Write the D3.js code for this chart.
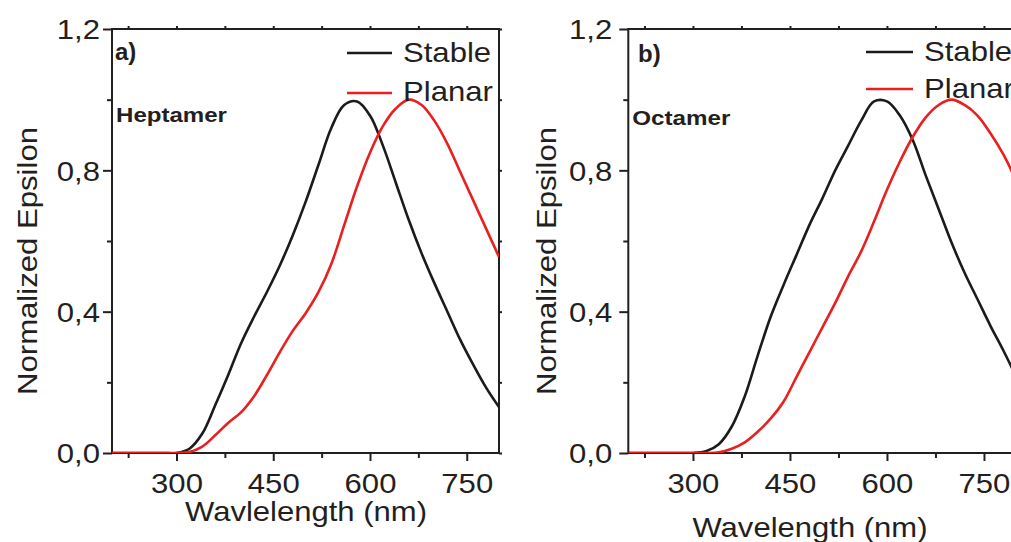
<!DOCTYPE html>
<html>
<head>
<meta charset="utf-8">
<script src="https://cdn.jsdelivr.net/npm/d3@7"></script>
<style>
  body { margin: 0; background: #fff; }
  svg { display: block; }
  text { font-family: "Liberation Sans", Arial, Helvetica, sans-serif; fill: #231f20; }
</style>
</head>
<body>
<svg id="chart" width="1011" height="542"></svg>
<script>
// Wavelength grid (nm)
const wavelengths = [200,220,240,260,280,300,320,340,360,380,400,420,440,460,480,500,
                     520,540,560,580,600,620,640,660,680,700,720,740,760,780,800];

// Normalized epsilon, heptamer
const heptamerStable = [0,0,0,0,0,0,0.012,0.055,0.135,0.22,0.31,0.385,0.455,0.53,0.615,0.71,
                        0.815,0.92,0.985,0.995,0.955,0.87,0.765,0.66,0.565,0.48,0.4,0.32,0.25,0.185,0.13];
const heptamerPlanar = [0,0,0,0,0,0,0.003,0.018,0.05,0.085,0.115,0.16,0.22,0.285,0.345,0.395,
                        0.455,0.535,0.645,0.755,0.85,0.925,0.975,1.0,0.985,0.94,0.875,0.795,0.715,0.635,0.555];

// Normalized epsilon, octamer
const octamerStable = [0,0,0,0,0,0,0.005,0.025,0.075,0.16,0.275,0.385,0.475,0.56,0.645,0.72,
                       0.8,0.87,0.94,0.995,0.995,0.955,0.885,0.785,0.69,0.595,0.51,0.435,0.36,0.29,0.215];
const octamerPlanar = [0,0,0,0,0,0,0,0.002,0.012,0.03,0.06,0.097,0.145,0.215,0.285,0.355,
                       0.425,0.5,0.57,0.655,0.745,0.825,0.895,0.95,0.985,1.0,0.985,0.955,0.905,0.845,0.77];

const seriesNames = ["Stable", "Planar"];
const seriesColors = ["#1c1a1a", "#e8201f"];

const xMajor = [300, 450, 600, 750];
const xMinor = [225, 375, 525, 675];
const yMajor = [0, 0.4, 0.8, 1.2];
const yMinor = [0.2, 0.6, 1.0];

const panels = [
  { id: "a", tag: "a)", name: "Heptamer", xTitle: "Wavlelength (nm)",
    series: [heptamerStable, heptamerPlanar],
    left: 112, right: 499, top: 29, bottom: 453,
    labelGap: 12, yTitleX: 37, xTitleX: 306, xTitleY: 521, xTitleLen: 242,
    tagX: 115, tagY: 60, nameY: 122, nameLen: 111,
    legX: 347, legLen: 45, legY: [53, 93], legTextY: [62, 101] },
  { id: "b", tag: "b)", name: "Octamer", xTitle: "Wavelength (nm)",
    series: [octamerStable, octamerPlanar],
    left: 628.3, right: 1016.3, top: 29, bottom: 453,
    labelGap: 16, yTitleX: 556, xTitleX: 810, xTitleY: 537, xTitleLen: 235,
    tagX: 638, tagY: 62, nameY: 125, nameLen: 98,
    legX: 866, legLen: 47, legY: [52, 89], legTextY: [61, 98] }
];

const svg = d3.select("#chart");
const fmtY = d => d.toFixed(1).replace(".", ",");
const WIDEN = 1.11;

// stretch text horizontally to the wider face used in the figure
function widen(sel, k) {
  sel.each(function () {
    const len = this.getComputedTextLength();
    d3.select(this).attr("textLength", len * k).attr("lengthAdjust", "spacingAndGlyphs");
  });
}

panels.forEach(p => {
  const x = d3.scaleLinear().domain([200, 800]).range([p.left, p.right]);
  const y = d3.scaleLinear().domain([0, 1.2]).range([p.bottom, p.top]);
  const g = svg.append("g").attr("class", "panel-" + p.id);

  svg.append("clipPath").attr("id", "clip-" + p.id)
    .append("rect").attr("x", p.left).attr("y", p.top)
    .attr("width", p.right - p.left).attr("height", p.bottom - p.top);

  const styleAxis = sel => {
    sel.select(".domain").remove();
    sel.selectAll("line").attr("stroke", "#231f20").attr("stroke-width", 2);
  };

  // bottom axis
  const bx = g.append("g").attr("transform", `translate(0,${p.bottom})`)
    .call(d3.axisBottom(x).tickValues(xMajor).tickSize(8).tickFormat(d3.format("d")));
  styleAxis(bx);
  bx.selectAll("text").attr("y", 40).attr("dy", null)
    .style("font-size", "28px").attr("fill", "#231f20");
  bx.selectAll("text").call(widen, WIDEN);
  const bxm = g.append("g").attr("transform", `translate(0,${p.bottom})`)
    .call(d3.axisBottom(x).tickValues(xMinor).tickSize(5).tickFormat(""));
  styleAxis(bxm);

  // top axis (small ticks)
  const tx = g.append("g").attr("transform", `translate(0,${p.top})`)
    .call(d3.axisTop(x).tickValues(xMajor.concat(xMinor)).tickSize(3).tickFormat(""));
  styleAxis(tx);

  // left axis
  const ly = g.append("g").attr("transform", `translate(${p.left},0)`)
    .call(d3.axisLeft(y).tickValues(yMajor).tickSize(9).tickFormat(fmtY));
  styleAxis(ly);
  ly.selectAll("text").attr("x", -p.labelGap).attr("dy", "0.35em")
    .style("font-size", "28px").attr("fill", "#231f20");
  ly.selectAll("text").call(widen, WIDEN);
  const lym = g.append("g").attr("transform", `translate(${p.left},0)`)
    .call(d3.axisLeft(y).tickValues(yMinor).tickSize(5).tickFormat(""));
  styleAxis(lym);

  // right axis (small ticks)
  const ry = g.append("g").attr("transform", `translate(${p.right},0)`)
    .call(d3.axisRight(y).tickValues(yMajor.concat(yMinor)).tickSize(3).tickFormat(""));
  styleAxis(ry);

  // frame
  g.append("rect").attr("x", p.left).attr("y", p.top)
    .attr("width", p.right - p.left).attr("height", p.bottom - p.top)
    .attr("fill", "none").attr("stroke", "#231f20").attr("stroke-width", 2);

  // curves
  const line = d3.line()
    .x((d, i) => x(wavelengths[i]))
    .y(d => y(d))
    .curve(d3.curveCatmullRom.alpha(0.5));
  const curves = g.append("g").attr("clip-path", `url(#clip-${p.id})`);
  p.series.forEach((s, i) => {
    curves.append("path").datum(s)
      .attr("d", line)
      .attr("fill", "none")
      .attr("stroke", seriesColors[i])
      .attr("stroke-width", 2.6)
      .attr("stroke-linejoin", "round");
  });

  // legend
  seriesNames.forEach((name, i) => {
    g.append("line")
      .attr("x1", p.legX).attr("x2", p.legX + p.legLen)
      .attr("y1", p.legY[i]).attr("y2", p.legY[i])
      .attr("stroke", seriesColors[i]).attr("stroke-width", 2.6);
    g.append("text")
      .attr("x", p.legX + p.legLen + 11).attr("y", p.legTextY[i])
      .style("font-size", "28px").text(name)
      .call(widen, WIDEN);
  });

  // panel tag and molecule name
  g.append("text").attr("x", p.tagX).attr("y", p.tagY)
    .style("font-size", "24px").style("font-weight", "bold").text(p.tag);
  g.append("text").attr("x", p.left + 4).attr("y", p.nameY)
    .style("font-size", "20px").style("font-weight", "bold").text(p.name)
    .attr("textLength", p.nameLen).attr("lengthAdjust", "spacingAndGlyphs");

  // axis titles
  g.append("text")
    .attr("transform", `translate(${p.yTitleX},261) rotate(-90)`)
    .attr("text-anchor", "middle")
    .style("font-size", "28px").text("Normalized Epsilon")
    .attr("textLength", 268).attr("lengthAdjust", "spacingAndGlyphs");
  g.append("text")
    .attr("x", p.xTitleX).attr("y", p.xTitleY)
    .attr("text-anchor", "middle")
    .style("font-size", "28px").text(p.xTitle)
    .attr("textLength", p.xTitleLen).attr("lengthAdjust", "spacingAndGlyphs");
});
</script>
</body>
</html>
